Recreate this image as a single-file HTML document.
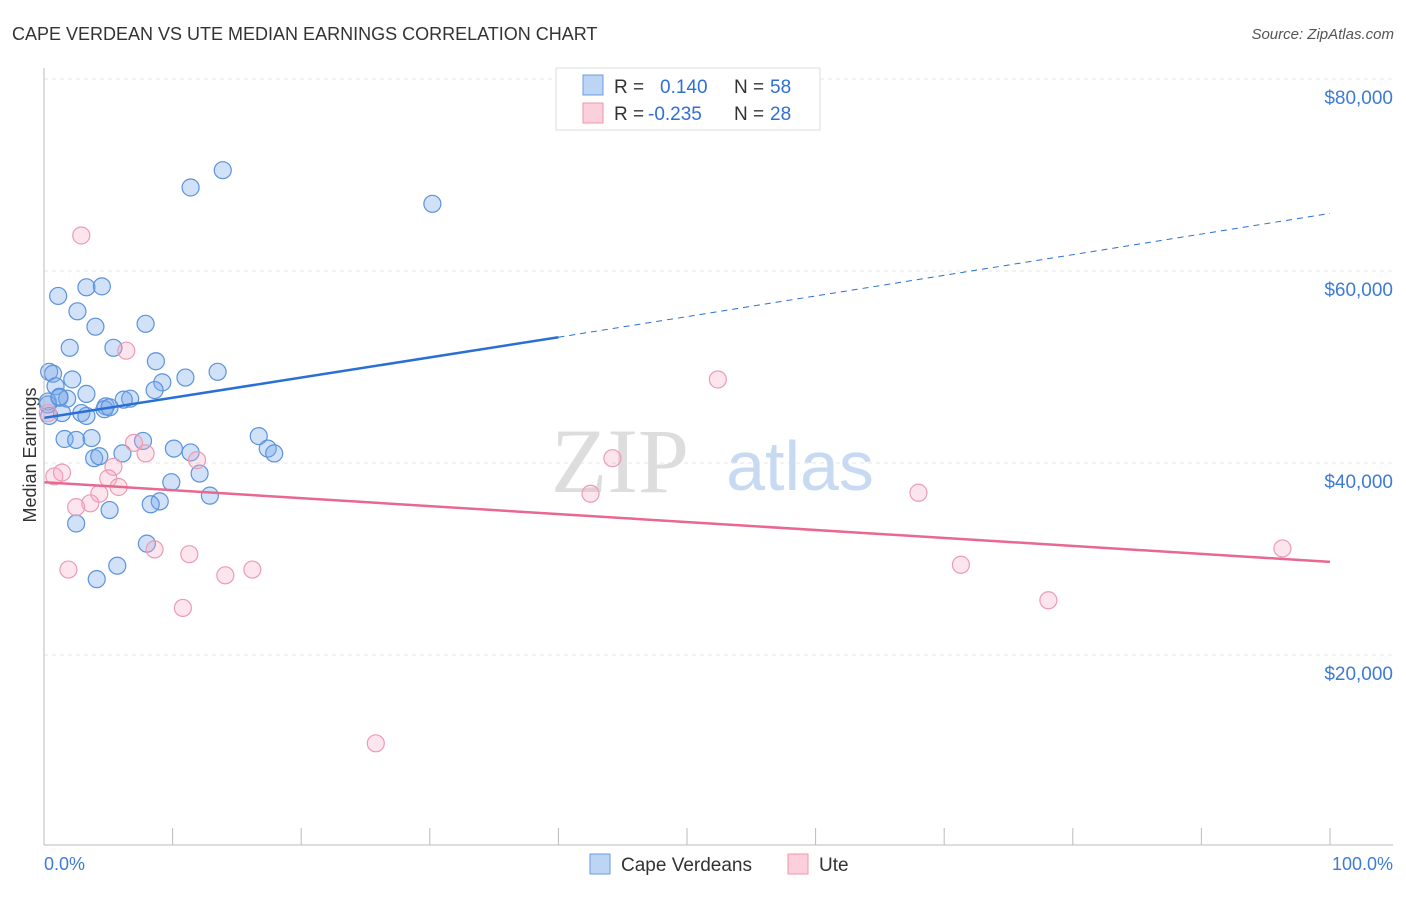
<!DOCTYPE html>
<html><head><meta charset="utf-8"><style>
body{margin:0;background:#fff;font-family:"Liberation Sans",sans-serif;}
</style></head><body>
<svg id="c" width="1406" height="892" xmlns="http://www.w3.org/2000/svg">
<text x="12" y="40" font-size="18" fill="#333">CAPE VERDEAN VS UTE MEDIAN EARNINGS CORRELATION CHART</text>
<text x="1394" y="39" font-size="15" fill="#555" font-style="italic" text-anchor="end">Source: ZipAtlas.com</text>
<text x="36" y="455" font-size="18" fill="#333" transform="rotate(-90 36 455)" text-anchor="middle">Median Earnings</text>
<g id="grid"></g>
<text x="620" y="492" font-size="92" fill="#ddd" font-family="Liberation Serif,serif" text-anchor="middle">ZIP</text>
<text x="800" y="490" font-size="70" fill="#c8daf2" text-anchor="middle">atlas</text>
<g id="pts"></g>
<g id="lines"></g>
<line x1="44" y1="68" x2="44" y2="845" stroke="#bbb"/>
<line x1="44" y1="845" x2="1393" y2="845" stroke="#bbb"/>
<text x="44" y="870" font-size="18" fill="#3d7bd9">0.0%</text>
<text x="1393" y="870" font-size="18" fill="#3d7bd9" text-anchor="end">100.0%</text>
<g>
<rect x="556" y="68" width="264" height="62" fill="#fff" stroke="#ddd"/>
<rect x="583" y="75" width="20" height="20" fill="#bcd5f5" stroke="#6a9de0"/>
<rect x="583" y="103" width="20" height="20" fill="#fbd0dc" stroke="#ef95b0"/>
<text x="614" y="93" font-size="19" fill="#333">R = </text><text x="660" y="93" font-size="19" fill="#2f6fd6">0.140</text>
<text x="734" y="93" font-size="19" fill="#333">N = </text><text x="770" y="93" font-size="19" fill="#2f6fd6">58</text>
<text x="614" y="120" font-size="19" fill="#333">R = </text><text x="648" y="120" font-size="19" fill="#2f6fd6">-0.235</text>
<text x="734" y="120" font-size="19" fill="#333">N = </text><text x="770" y="120" font-size="19" fill="#2f6fd6">28</text>
</g>
<g>
<rect x="590" y="854" width="20" height="20" fill="#bcd5f5" stroke="#6a9de0"/>
<text x="621" y="871" font-size="19" fill="#333">Cape Verdeans</text>
<rect x="788" y="854" width="20" height="20" fill="#fbd0dc" stroke="#ef95b0"/>
<text x="819" y="871" font-size="19" fill="#333">Ute</text>
</g>
</svg>
<script>
const yTicks=[20000,40000,60000,80000];
const yTickLabels=["$20,000","$40,000","$60,000","$80,000"];
const xTicks=[0,10,20,30,40,50,60,70,80,90,100];
const blueX=[13.9,11.4,30.2,1.1,3.3,4.5,2.6,4.0,7.9,2.0,5.4,8.7,0.4,0.7,11.0,13.5,9.2,2.2,0.9,8.6,3.3,0.3,1.2,1.8,6.7,6.2,4.8,4.7,5.1,2.9,3.3,1.4,0.4,16.7,17.4,17.9,1.6,2.5,3.7,7.7,10.1,11.4,3.9,4.3,6.1,12.1,9.9,9.0,8.3,12.9,5.1,2.5,8.0,5.7,4.1,0.3,1.2];
const blueY=[70500,68700,67000,57400,58300,58400,55800,54200,54500,52000,52000,50600,49500,49300,48900,49500,48400,48700,48000,47600,47200,46400,46800,46700,46700,46600,45900,45600,45800,45200,44900,45200,44900,42800,41500,41000,42500,42400,42600,42300,41500,41100,40500,40700,41000,38900,38000,36000,35700,36600,35100,33700,31600,29300,27900,46100,46900];
const pinkX=[2.9,6.4,52.4,0.3,7.0,7.9,11.9,44.2,0.8,1.4,5.4,5.0,5.8,4.3,3.6,2.5,42.5,68.0,8.6,11.3,1.9,14.1,16.2,71.3,78.1,96.3,10.8,25.8];
const pinkY=[63700,51700,48700,45200,42100,41000,40300,40500,38600,39000,39600,38400,37500,36800,35800,35400,36800,36900,31000,30500,28900,28300,28900,29400,25700,31100,24900,10800];
const blueTrend=[[0,44700],[40,53100],[100,66000]];
const pinkTrend=[[0,38000],[100,29700]];
const X=v=>44+v/100*1286;
const Y=v=>847-v/20000*192;
const NS="http://www.w3.org/2000/svg";
function mk(t,a,p){const e=document.createElementNS(NS,t);for(const k in a)e.setAttribute(k,a[k]);p.appendChild(e);return e;}
const grid=document.getElementById('grid');
yTicks.forEach((t,i)=>{
 const l=mk('line',{x1:44,x2:1393,y1:Y(t),y2:Y(t),stroke:'#e4e4e4','stroke-dasharray':'4,4'},grid);
 
 
 const tx=mk('text',{x:1393,y:Y(t)+25,'font-size':19,fill:'#3d7bd9','text-anchor':'end'},grid);
 tx.textContent=yTickLabels[i];
 
 
});
xTicks.forEach(t=>{
 const l=mk('line',{x1:X(t),x2:X(t),y1:828,y2:845,stroke:'#bbb'},grid);
 
 
});
const pts=document.getElementById('pts');
blueX.forEach((x,i)=>{
 const c=mk('circle',{cx:X(x),cy:Y(blueY[i]),r:8.5,fill:'rgba(120,170,235,0.35)',stroke:'#5b93dd','stroke-width':1.2},pts);
 
 
});
pinkX.forEach((x,i)=>{
 const c=mk('circle',{cx:X(x),cy:Y(pinkY[i]),r:8.5,fill:'rgba(245,170,195,0.3)',stroke:'#ec9bb5','stroke-width':1.2},pts);
 
 
});
const lines=document.getElementById('lines');
const b1=mk('line',{x1:X(blueTrend[0][0]),y1:Y(blueTrend[0][1]),x2:X(blueTrend[1][0]),y2:Y(blueTrend[1][1]),stroke:'#2a6fd6','stroke-width':2.5},lines);


const b2=mk('line',{x1:X(blueTrend[1][0]),y1:Y(blueTrend[1][1]),x2:X(blueTrend[2][0]),y2:Y(blueTrend[2][1]),stroke:'#2a6fd6','stroke-width':1,'stroke-dasharray':'6,5'},lines);


const p1=mk('line',{x1:X(pinkTrend[0][0]),y1:Y(pinkTrend[0][1]),x2:X(pinkTrend[1][0]),y2:Y(pinkTrend[1][1]),stroke:'#e8688f','stroke-width':2.5},lines);


</script>
</body></html>
